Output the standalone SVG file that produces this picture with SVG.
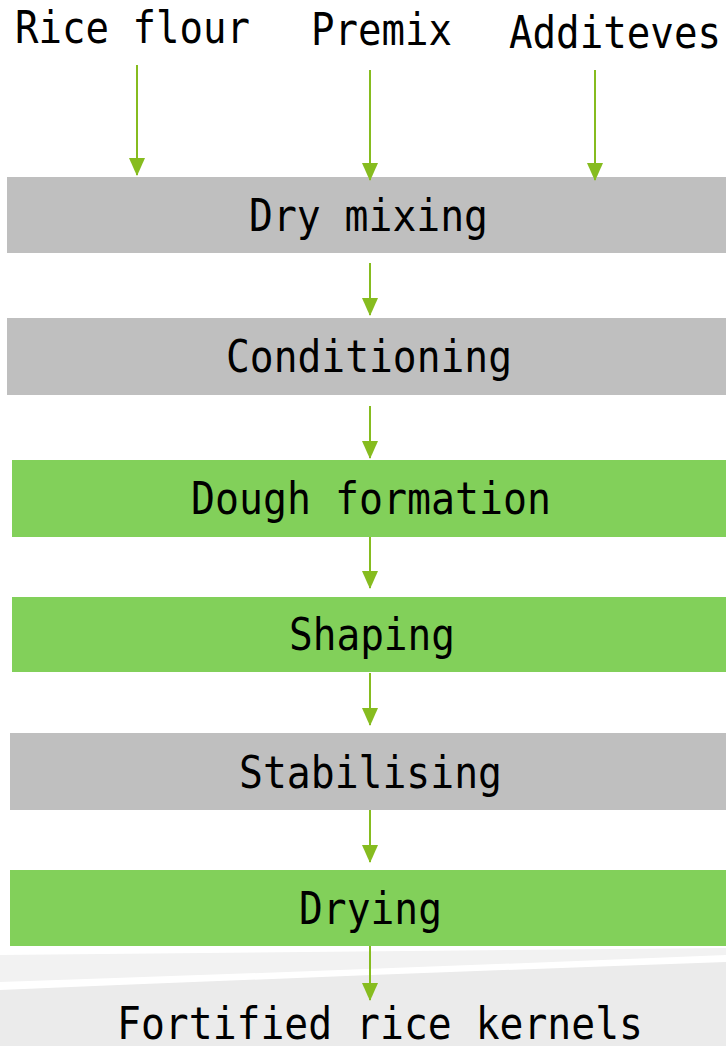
<svg xmlns="http://www.w3.org/2000/svg" width="726" height="1046" viewBox="0 0 726 1046">
  <style>
    .lbl { font-family: "DejaVu Sans Mono", "Liberation Mono", monospace; font-size: 44px; fill: #000; }
    .gray { fill: #bfbfbf; }
    .green { fill: #82d05a; }
    .flow { stroke: #86bc1f; stroke-width: 2; fill: none; marker-end: url(#head); }
  </style>
  <defs>
    <!-- arrowhead drawn along +x; orient="auto" turns it down the line -->
    <marker id="head" markerUnits="userSpaceOnUse" markerWidth="18" markerHeight="16" refX="17" refY="8" orient="auto" viewBox="0 0 18 16">
      <path d="M0,0 L18,8 L0,16 Z" fill="#86bc1f"/>
    </marker>
  </defs>

  <rect width="726" height="1046" fill="#fff"/>

  <!-- background bands at the foot of the page -->
  <g id="backdrop">
    <path d="M0,955 L726,948 L726,955 Q360,970 0,982 Z" fill="#f2f2f2"/>
    <path d="M0,990 Q360,975 726,962 L726,1046 L0,1046 Z" fill="#ebebeb"/>
  </g>

  <!-- raw inputs -->
  <g id="rice-flour"><text class="lbl" x="15" y="43" textLength="235" lengthAdjust="spacingAndGlyphs">Rice flour</text></g>
  <g id="premix"><text class="lbl" x="311" y="45" textLength="141" lengthAdjust="spacingAndGlyphs">Premix</text></g>
  <g id="additives"><text class="lbl" x="509" y="48" textLength="212" lengthAdjust="spacingAndGlyphs">Additeves</text></g>

  <!-- process steps -->
  <g id="dry-mixing">
    <rect class="gray" x="7" y="177" width="719" height="76"/>
    <text class="lbl" x="249" y="231" textLength="239" lengthAdjust="spacingAndGlyphs">Dry mixing</text>
  </g>
  <g id="conditioning">
    <rect class="gray" x="7" y="318" width="719" height="77"/>
    <text class="lbl" x="226" y="372" textLength="286" lengthAdjust="spacingAndGlyphs">Conditioning</text>
  </g>
  <g id="dough-formation">
    <rect class="green" x="12" y="460" width="714" height="77"/>
    <text class="lbl" x="191" y="514" textLength="360" lengthAdjust="spacingAndGlyphs">Dough formation</text>
  </g>
  <g id="shaping">
    <rect class="green" x="12" y="597" width="714" height="75"/>
    <text class="lbl" x="289" y="650" textLength="166" lengthAdjust="spacingAndGlyphs">Shaping</text>
  </g>
  <g id="stabilising">
    <rect class="gray" x="10" y="733" width="716" height="77"/>
    <text class="lbl" x="239" y="788" textLength="263" lengthAdjust="spacingAndGlyphs">Stabilising</text>
  </g>
  <g id="drying">
    <rect class="green" x="10" y="870" width="716" height="76"/>
    <text class="lbl" x="299" y="924" textLength="143" lengthAdjust="spacingAndGlyphs">Drying</text>
  </g>

  <!-- product -->
  <g id="fortified-kernels">
    <text class="lbl" x="117" y="1039" textLength="526" lengthAdjust="spacingAndGlyphs">Fortified rice kernels</text>
  </g>

  <!-- connectors -->
  <g id="connectors">
    <line class="flow" x1="137" y1="65" x2="137" y2="175"/>
    <line class="flow" x1="370" y1="70" x2="370" y2="180"/>
    <line class="flow" x1="595" y1="70" x2="595" y2="180"/>
    <line class="flow" x1="370" y1="263" x2="370" y2="315"/>
    <line class="flow" x1="370" y1="406" x2="370" y2="458"/>
    <line class="flow" x1="370" y1="537" x2="370" y2="588"/>
    <line class="flow" x1="370" y1="673" x2="370" y2="725"/>
    <line class="flow" x1="370" y1="810" x2="370" y2="862"/>
    <line class="flow" x1="370" y1="946" x2="370" y2="1000"/>
  </g>
</svg>
